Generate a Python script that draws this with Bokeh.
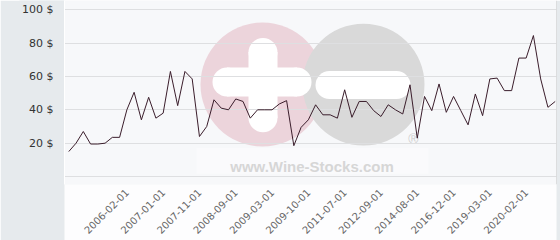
from bokeh.plotting import figure
from bokeh.models import FixedTicker, Range1d, Span
from bokeh.embed import file_html
from bokeh.resources import INLINE
from bokeh.core.properties import value
import math

# ---- data ----
prices = [15, 20, 27, 19.5, 19.5, 20, 23.5, 23.5, 40, 50.5,
          34, 47.5, 35, 38, 63, 42.5, 63, 58.5, 24, 30,
          46, 41, 40, 46.5, 45, 35, 40, 40, 40, 43.5,
          45.5, 18.5, 29.5, 34, 43, 37, 37, 35, 52, 35.5,
          45, 45, 39.5, 36, 43, 40, 37.5, 55, 23, 48,
          39.5, 55.5, 38.5, 48, 39.5, 31, 49.5, 36.5, 58.5, 59,
          51.5, 51.5, 71, 71, 84.5, 58.5, 41.5, 45]
# labels shown for every fifth observation, starting with the ninth
date_labels = ["2006-02-01", "2007-01-01", "2007-11-01", "2008-09-01",
               "2009-03-01", "2009-10-01", "2011-07-01", "2012-09-01",
               "2014-08-01", "2016-12-01", "2019-03-01", "2020-02-01"]
label_first, label_step = 8, 5
y_ticks = [0, 20, 40, 60, 80, 100]
y_tick_labels = ["", "20 $", "40 $", "60 $", "80 $", "100 $"]

xs = list(range(len(prices)))
x_ticks = [label_first + label_step * i for i in range(len(date_labels))]

# ---- layout (pixels) ----
FL, FR, FT, FB = 64, 556, 0, 186
X0, X1 = -0.59, 67.18
Y1 = 105.5
Y0 = Y1 - (FB - FT) / 1.687


def dx(px):
    return X0 + (px - FL) * (X1 - X0) / (FR - FL)


def dy(py):
    return Y1 - (py - FT) * (Y1 - Y0) / (FB - FT)


p = figure(width=560, height=240, x_range=Range1d(X0, X1), y_range=Range1d(Y0, Y1),
           output_backend="svg", toolbar_location=None,
           min_border_left=FL, min_border_right=560 - FR, min_border_top=FT,
           min_border_bottom=240 - FB)
p.border_fill_color = "#e6eaed"
p.background_fill_color = "#f7f8fa"
p.outline_line_color = None

# ---- watermark ----
wm = dict(level="image")
p.scatter([dx(262)], [dy(85)], size=124, marker="circle", fill_color="#ecd4db", line_color=None, **wm)
p.scatter([dx(363)], [dy(85)], size=122, marker="circle", fill_color="#d9d9d9", line_color=None, **wm)
# plus
p.rect([dx(262.5)], [dy(85.5)], width=29, height=66, width_units="screen", height_units="screen",
       fill_color="white", line_color=None, **wm)
p.scatter([dx(262.5), dx(262.5)], [dy(52.5), dy(118.5)], size=29, marker="circle",
          fill_color="white", line_color=None, **wm)
p.rect([dx(261.5)], [dy(82.5)], width=70, height=29, width_units="screen", height_units="screen",
       fill_color="white", line_color=None, **wm)
p.scatter([dx(226.5), dx(296.5)], [dy(82.5), dy(82.5)], size=29, marker="circle",
          fill_color="white", line_color=None, **wm)
# minus
p.rect([dx(362.5)], [dy(85.5)], width=67, height=28, width_units="screen", height_units="screen",
       fill_color="white", line_color=None, **wm)
p.scatter([dx(329), dx(396)], [dy(85.5), dy(85.5)], size=28, marker="circle",
          fill_color="white", line_color=None, **wm)
p.rect([dx(312)], [dy(162)], width=232, height=26, width_units="screen", height_units="screen",
       fill_color="white", fill_alpha=0.35, line_color=None, **wm)
p.text([dx(311.5)], [dy(168)], text=["www.Wine-Stocks.com"], text_font=value("Liberation Sans"),
       text_font_style="bold", text_font_size="15px", text_color="#d6d6d6",
       text_align="center", text_baseline="alphabetic", **wm)
p.text([dx(413)], [dy(140)], text=["®"], text_font=value("Liberation Sans"),
       text_font_size="14px", text_color="#cfcfcf", text_align="center", text_baseline="middle", **wm)

# ---- data line ----
p.line(xs, prices, line_color="#3a1d2b", line_width=1)

# ---- axes ----
p.xgrid.grid_line_color = None
p.ygrid.grid_line_color = "#dedfe1"
p.ygrid.ticker = FixedTicker(ticks=y_ticks)

ya = p.yaxis[0]
ya.ticker = FixedTicker(ticks=y_ticks)
ya.major_label_overrides = {t: l for t, l in zip(y_ticks, y_tick_labels)}
ya.axis_line_color = "white"
ya.major_tick_line_color = None
ya.minor_tick_line_color = None
ya.major_label_standoff = 5
ya.major_label_text_font = "DejaVu Sans"
ya.major_label_text_font_size = "11px"
ya.major_label_text_color = "#333333"
ya.background_fill_color = "#e6eaed"

xa = p.xaxis[0]
xa.ticker = FixedTicker(ticks=x_ticks)
xa.major_label_overrides = {t: l for t, l in zip(x_ticks, date_labels)}
xa.major_label_orientation = math.pi / 4
xa.axis_line_color = None
xa.major_tick_line_color = None
xa.minor_tick_line_color = None
xa.major_label_standoff = 0
xa.major_label_text_font = "DejaVu Sans"
xa.major_label_text_font_size = "10px"
xa.major_label_text_color = "#666666"
xa.background_fill_color = "#fdfdfe"

p.add_layout(Span(location=X1, dimension="height", line_color="#c4c4c4", line_width=1))

open("out.html", "w").write(file_html(p, INLINE))
